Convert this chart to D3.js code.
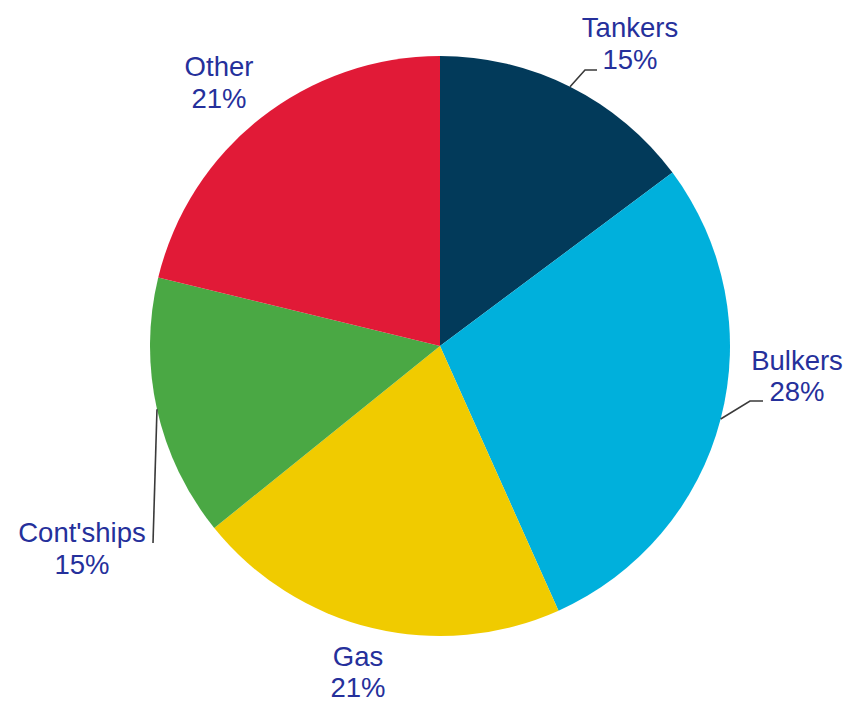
<!DOCTYPE html>
<html>
<head>
<meta charset="utf-8">
<script src="https://cdn.jsdelivr.net/npm/d3@7"></script>
<style>
  html, body { margin: 0; padding: 0; background: #ffffff; }
  svg { display: block; }
  text { font-family: "Liberation Sans", Arial, sans-serif; }
</style>
</head>
<body>
<svg id="chart" width="849" height="704"></svg>
<script>
// ---- data ----
const categories = ["Tankers", "Bulkers", "Gas", "Cont'ships", "Other"];
const shares = [14.8, 28.5, 20.9, 14.6, 21.2];
const shareLabels = ["15%", "28%", "21%", "15%", "21%"];

// ---- styles / layout (not data) ----
const colors = ["#023a5a", "#00b0dc", "#f0cb00", "#4aa844", "#e11a37"];
const textColor = "#25309b";
const W = 849, H = 704;
const cx = 440, cy = 346, R = 290;
// label anchor relative to pie centre (x centre, first baseline)
const labelPos = [[190, -309], [357, 24], [-82, 320], [-358, 196], [-221, -270]];
const lineGap = [32, 31, 31, 32, 32];
// leader: elbow and end points relative to pie centre (null = no leader)
const leaders = [
  [[145, -276], [157, -276]],
  [[310, 55], [323, 55]],
  null,
  [[-287, 197]],
  null
];

const svg = d3.select("#chart");
const g = svg.append("g").attr("transform", `translate(${cx},${cy})`);

const pie = d3.pie().sort(null).value(d => d.v).startAngle(0).endAngle(2 * Math.PI);
const data = categories.map((c, i) => ({ c, v: shares[i], lab: shareLabels[i], i }));
const arcs = pie(data);
const arc = d3.arc().innerRadius(0).outerRadius(R);

g.selectAll("path.slice")
  .data(arcs)
  .join("path")
  .attr("class", "slice")
  .attr("d", arc)
  .attr("fill", d => colors[d.data.i]);

// leader lines
const line = d3.line();
arcs.forEach(a => {
  const L = leaders[a.data.i];
  if (!L) return;
  const mid = (a.startAngle + a.endAngle) / 2;
  const start = [R * Math.sin(mid), -R * Math.cos(mid)];
  g.append("path")
    .attr("d", line([start, ...L]))
    .attr("fill", "none")
    .attr("stroke", "#3a3a3a")
    .attr("stroke-width", 1.6);
});

// labels
const lbl = g.selectAll("text.lbl")
  .data(arcs)
  .join("text")
  .attr("class", "lbl")
  .attr("text-anchor", "middle")
  .attr("fill", textColor)
  .style("font-size", "27.5px");
lbl.append("tspan")
  .attr("x", d => labelPos[d.data.i][0])
  .attr("y", d => labelPos[d.data.i][1])
  .text(d => d.data.c);
lbl.append("tspan")
  .attr("x", d => labelPos[d.data.i][0])
  .attr("y", d => labelPos[d.data.i][1] + lineGap[d.data.i])
  .text(d => d.data.lab);
</script>
</body>
</html>
